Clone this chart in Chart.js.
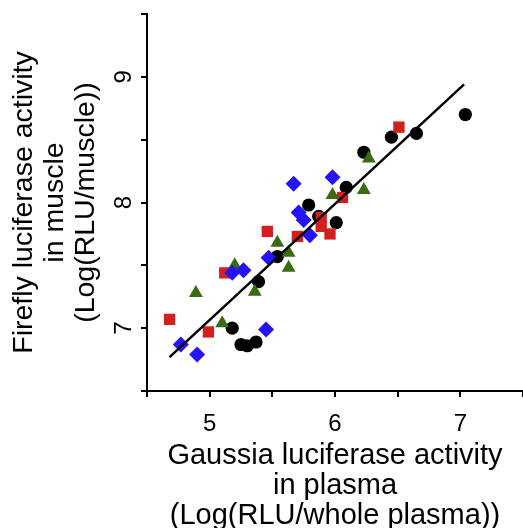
<!DOCTYPE html>
<html>
<head>
<meta charset="utf-8">
<script src="https://cdn.jsdelivr.net/npm/chart.js@4.4.1/dist/chart.umd.min.js"></script>
<style>
  html, body { margin: 0; padding: 0; background: #fff; }
  #wrap { width: 523px; height: 528px; }
</style>
</head>
<body>
<div id="wrap"><canvas id="lucChart" width="523" height="528"></canvas></div>
<script>
// tick labels shown on each axis
const xTickLabels = [5, 6, 7];
const yTickLabels = [7, 8, 9];

// black circles
const blackX = [5.18, 5.25, 5.30, 5.37, 5.39, 5.54, 5.79, 5.87, 6.01, 6.09, 6.23, 6.45, 6.65, 7.04];
const blackY = [7.00, 6.87, 6.86, 6.89, 7.37, 7.57, 7.98, 7.89, 7.84, 8.12, 8.40, 8.52, 8.55, 8.70];

// red squares
const redX = [4.68, 4.99, 5.12, 5.46, 5.70, 5.89, 5.89, 5.96, 6.06, 6.51];
const redY = [7.07, 6.97, 7.44, 7.77, 7.73, 7.88, 7.81, 7.75, 8.04, 8.60];

// green triangles
const greenX = [4.89, 5.10, 5.20, 5.36, 5.54, 5.63, 5.63, 5.98, 6.23, 6.27];
const greenY = [7.28, 7.04, 7.50, 7.29, 7.68, 7.60, 7.48, 8.06, 8.10, 8.35];

// blue diamonds
const blueX = [4.77, 4.90, 5.18, 5.27, 5.45, 5.47, 5.67, 5.71, 5.75, 5.80, 5.98];
const blueY = [6.87, 6.79, 7.44, 7.46, 6.99, 7.56, 8.15, 7.92, 7.86, 7.74, 8.20];

// regression line ends
const fitX = [4.68, 7.03];
const fitY = [6.77, 8.94];

function pairs(xs, ys) {
  return xs.map((x, i) => ({ x: x, y: ys[i] }));
}

// keep the plot area exactly where the axes sit in the figure
function noScalePadding(scale) {
  scale.paddingTop = 0;
  scale.paddingBottom = 0;
  scale.paddingLeft = 0;
  scale.paddingRight = 0;
}

document.addEventListener('DOMContentLoaded', function () {
  const ctx = document.getElementById('lucChart').getContext('2d');
  const fontFamily = "'Liberation Sans', Arial, sans-serif";

  const axisLine = {
    display: true,
    drawOnChartArea: false,
    drawTicks: true,
    tickLength: 6,
    color: '#000',
    lineWidth: 2
  };

  new Chart(ctx, {
    type: 'scatter',
    data: {
      datasets: [
        {
          type: 'line',
          data: pairs(fitX, fitY),
          borderColor: '#000',
          borderWidth: 2.5,
          pointRadius: 0,
          fill: false
        },
        {
          data: pairs(blueX, blueY),
          pointStyle: 'rectRot',
          pointRadius: 8,
          backgroundColor: '#2512f5',
          borderWidth: 0
        },
        {
          data: pairs(greenX, greenY),
          pointStyle: 'triangle',
          pointRadius: 8,
          backgroundColor: '#3a6b12',
          borderWidth: 0
        },
        {
          data: pairs(redX, redY),
          pointStyle: 'rect',
          pointRadius: 8,
          backgroundColor: '#d41f1f',
          borderWidth: 0
        },
        {
          data: pairs(blackX, blackY),
          pointStyle: 'circle',
          pointRadius: 6.6,
          backgroundColor: '#000',
          borderWidth: 0
        }
      ]
    },
    options: {
      responsive: false,
      animation: false,
      layout: {
        autoPadding: false,
        padding: { top: 14, right: 0, bottom: 0, left: 0 }
      },
      plugins: {
        legend: { display: false },
        tooltip: { enabled: false }
      },
      scales: {
        x: {
          type: 'linear',
          min: 4.5,
          max: 7.5,
          afterFit: function (scale) {
            scale.height = 137;
            noScalePadding(scale);
          },
          grid: axisLine,
          border: { display: true, color: '#000', width: 2 },
          ticks: {
            stepSize: 0.5,
            autoSkip: false,
            maxRotation: 0,
            padding: 13,
            color: '#000',
            font: { family: fontFamily, size: 24 },
            callback: function (v) { return xTickLabels.includes(v) ? String(v) : ''; }
          },
          title: {
            display: true,
            text: ['Gaussia luciferase activity', 'in plasma', '(Log(RLU/whole plasma))'],
            color: '#000',
            font: { family: fontFamily, size: 29, lineHeight: 30 / 29 },
            padding: { top: 0, bottom: -3 }
          }
        },
        y: {
          type: 'linear',
          min: 6.5,
          max: 9.5,
          afterFit: function (scale) {
            scale.width = 147;
            noScalePadding(scale);
          },
          grid: axisLine,
          border: { display: true, color: '#000', width: 2 },
          ticks: {
            stepSize: 0.5,
            autoSkip: false,
            minRotation: 90,
            maxRotation: 90,
            crossAlign: 'center',
            padding: 10,
            color: '#000',
            font: { family: fontFamily, size: 24 },
            callback: function (v) { return yTickLabels.includes(v) ? String(v) : ''; }
          },
          title: {
            display: true,
            text: ['Firefly luciferase activity', 'in muscle', '(Log(RLU/muscle))'],
            color: '#000',
            font: { family: fontFamily, size: 28.5, lineHeight: 31 / 28.5 },
            padding: { top: 9, bottom: 0 }
          }
        }
      }
    }
  });
});
</script>
</body>
</html>
